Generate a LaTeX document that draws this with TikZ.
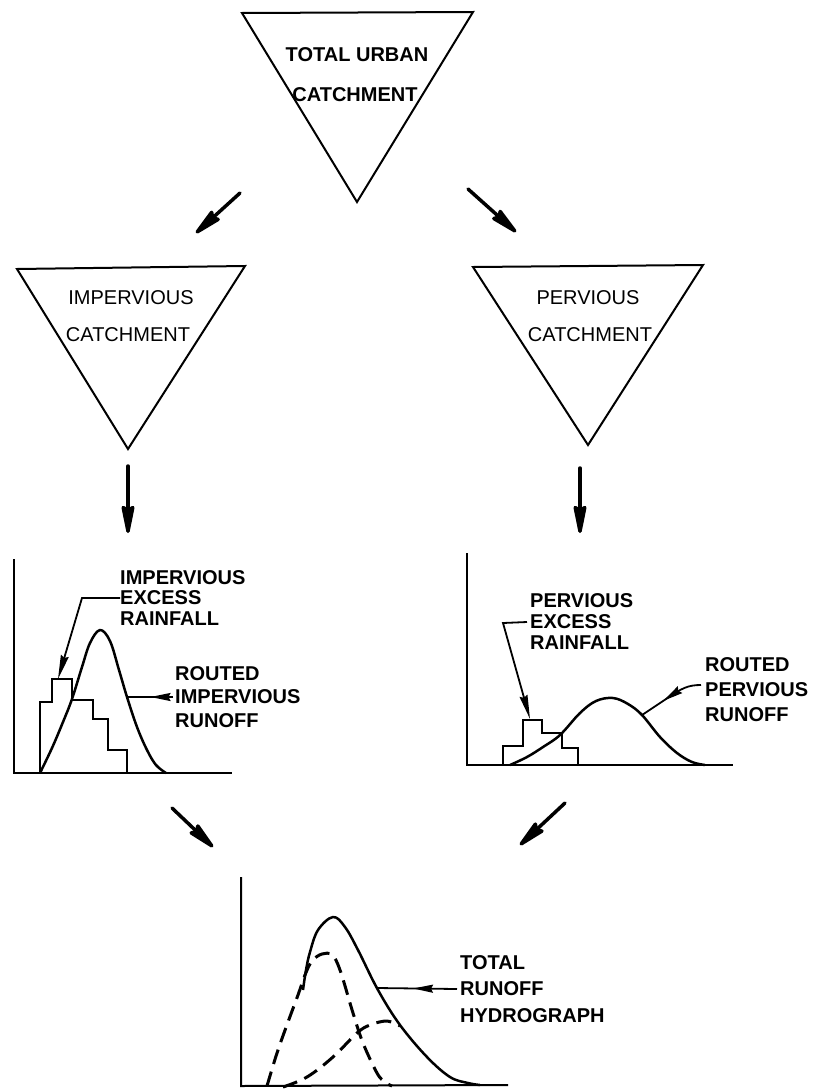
\documentclass[tikz,border=0pt]{standalone}
\usepackage{fontspec}
\setmainfont{Liberation Sans}
\usetikzlibrary{arrows.meta,decorations.markings}
\begin{document}
\begin{tikzpicture}[x=1pt,y=-1pt,
  tri/.style={line width=2pt,line join=miter},
  tritext/.style={font=\fontsize{20}{22}\selectfont,inner sep=0pt},
  tritextb/.style={font=\fontsize{20}{22}\selectfont\bfseries,inner sep=0pt},
  flow/.style={line width=3.5pt,line cap=round,-{Stealth[length=36pt,width=14pt,inset=4pt,round]}},
  axis/.style={line width=2pt},
  curve/.style={line width=2.5pt,line join=round},
  stepline/.style={line width=2.5pt,line join=miter},
  dashcurve/.style={line width=3pt,dash pattern=on 15pt off 8pt},
  lab/.style={font=\fontsize{20}{#1}\selectfont\bfseries,align=left,inner sep=0pt,anchor=west},
  leader/.style={line width=1.8pt,line join=miter},
  endtip/.style={-{Stealth[length=24pt,width=8pt,inset=2pt]}},
  midarrow/.style={postaction={decorate},decoration={markings,
     mark=at position #1 with {\arrow{Stealth[length=20pt,width=8pt,inset=2pt]}}}}
]
\useasboundingbox (0,0) rectangle (816,1090);

% ---- triangles ----
\draw[tri] (242,13) -- (473,12) -- (357,202) -- cycle;
\node[tritextb] (t1a) at (357,55) {TOTAL URBAN};
\node[tritextb] (t1b) at (355,95) {CATCHMENT};

\draw[tri] (17,269) -- (245,266) -- (128,449) -- cycle;
\node[tritext] (t2a) at (131,298) {IMPERVIOUS};
\node[tritext] (t2b) at (128,335) {CATCHMENT};

\draw[tri] (473,267) -- (703,265) -- (588,445) -- cycle;
\node[tritext] (t3a) at (588,298) {PERVIOUS};
\node[tritext] (t3b) at (590,335) {CATCHMENT};

% ---- flow arrows ----
\coordinate (a1s) at (240,193); \coordinate (a1e) at (196,233);
\coordinate (a2s) at (468,189); \coordinate (a2e) at (516,232);
\coordinate (a3s) at (128,466); \coordinate (a3e) at (128,533);
\coordinate (a4s) at (580,468); \coordinate (a4e) at (580,533);
\coordinate (a5s) at (172,808); \coordinate (a5e) at (213,847);
\coordinate (a6s) at (565,803); \coordinate (a6e) at (520,845);
\draw[flow] (a1s) -- (a1e);
\draw[flow] (a2s) -- (a2e);
\draw[flow] (a3s) -- (a3e);
\draw[flow] (a4s) -- (a4e);
\draw[flow] (a5s) -- (a5e);
\draw[flow] (a6s) -- (a6e);

% ---- left graph (impervious) ----
\draw[axis] (14,559) -- (14,773) -- (232,773);
\draw[stepline] (40,773) -- (40,702) -- (52,702) -- (52,679) -- (72,679) -- (72,700)
  -- (93,700) -- (93,719) -- (108,719) -- (108,750) -- (127,750) -- (127,773);
\draw[curve] plot[smooth,tension=0.6] coordinates {(40,773) (52,748) (63,722) (72,699)
  (82,667) (90,643) (100,630) (110,641) (119,670) (127,697) (137,727) (147,750)
  (156,765) (166,773)};
\node[lab=20.5] (impex) at (120,598) {IMPERVIOUS\\EXCESS\\RAINFALL};
\coordinate (impexTip) at (58,679);
\draw[leader,endtip] (impex.west) -- (82,598) -- (impexTip);
\node[lab=23.5] (imprt) at (175,697) {ROUTED\\IMPERVIOUS\\RUNOFF};
\coordinate (imprtTip) at (128,697);
\draw[leader,midarrow=0.5] ([xshift=-2pt]imprt.west) -- (imprtTip);

% ---- right graph (pervious) ----
\draw[axis] (467,553) -- (467,765) -- (733,765);
\draw[stepline] (503,765) -- (503,746) -- (523,746) -- (523,720) -- (542,720) -- (542,733)
  -- (562,733) -- (562,748) -- (578,748) -- (578,765);
\draw[curve] plot[smooth,tension=0.6] coordinates {(510,765) (527,757) (543,747) (560,735)
  (580,713) (596,701) (613,698) (628,704) (642,715) (660,737) (677,753) (692,762) (705,765)};
\node[lab=21] (perex) at (530,622) {PERVIOUS\\EXCESS\\RAINFALL};
\coordinate (perexTip) at (530,719);
\draw[leader,endtip] ([xshift=-3pt]perex.west) -- (503,623) -- (perexTip);
\node[lab=25] (perrt) at (705,690) {ROUTED\\PERVIOUS\\RUNOFF};
\coordinate (perrtTip) at (642,715);
\draw[leader,midarrow=0.62] ([xshift=-4pt,yshift=5pt]perrt.west) .. controls (688,685) and (682,688) .. (666,699) -- (perrtTip);

% ---- bottom graph (total) ----
\draw[axis] (241,877) -- (241,1086) -- (508,1085);
\draw[curve] plot[smooth,tension=0.6] coordinates {(303,990) (306,970) (310,952) (318,930)
  (333,917) (345,927) (358,950) (378,990) (400,1025) (427,1057) (450,1077) (468,1083) (480,1085)};
\draw[dashcurve] plot[smooth,tension=0.6] coordinates {(267,1086) (277,1053) (288,1022)
  (298,995) (305,975) (312,961) (322,954) (332,955) (340,970) (353,1013) (363,1043)
  (377,1073) (385,1082) (392,1086)};
\draw[dashcurve] plot[smooth,tension=0.6] coordinates {(283,1087) (307,1077) (333,1057)
  (357,1033) (370,1025) (387,1021) (400,1026)};
\node[lab=26.5] (total) at (460,989) {TOTAL\\RUNOFF\\HYDROGRAPH};
\coordinate (totalTip) at (377,988);
\draw[leader,midarrow=0.55] ([xshift=-3pt]total.west) -- (totalTip);
\end{tikzpicture}
\end{document}
